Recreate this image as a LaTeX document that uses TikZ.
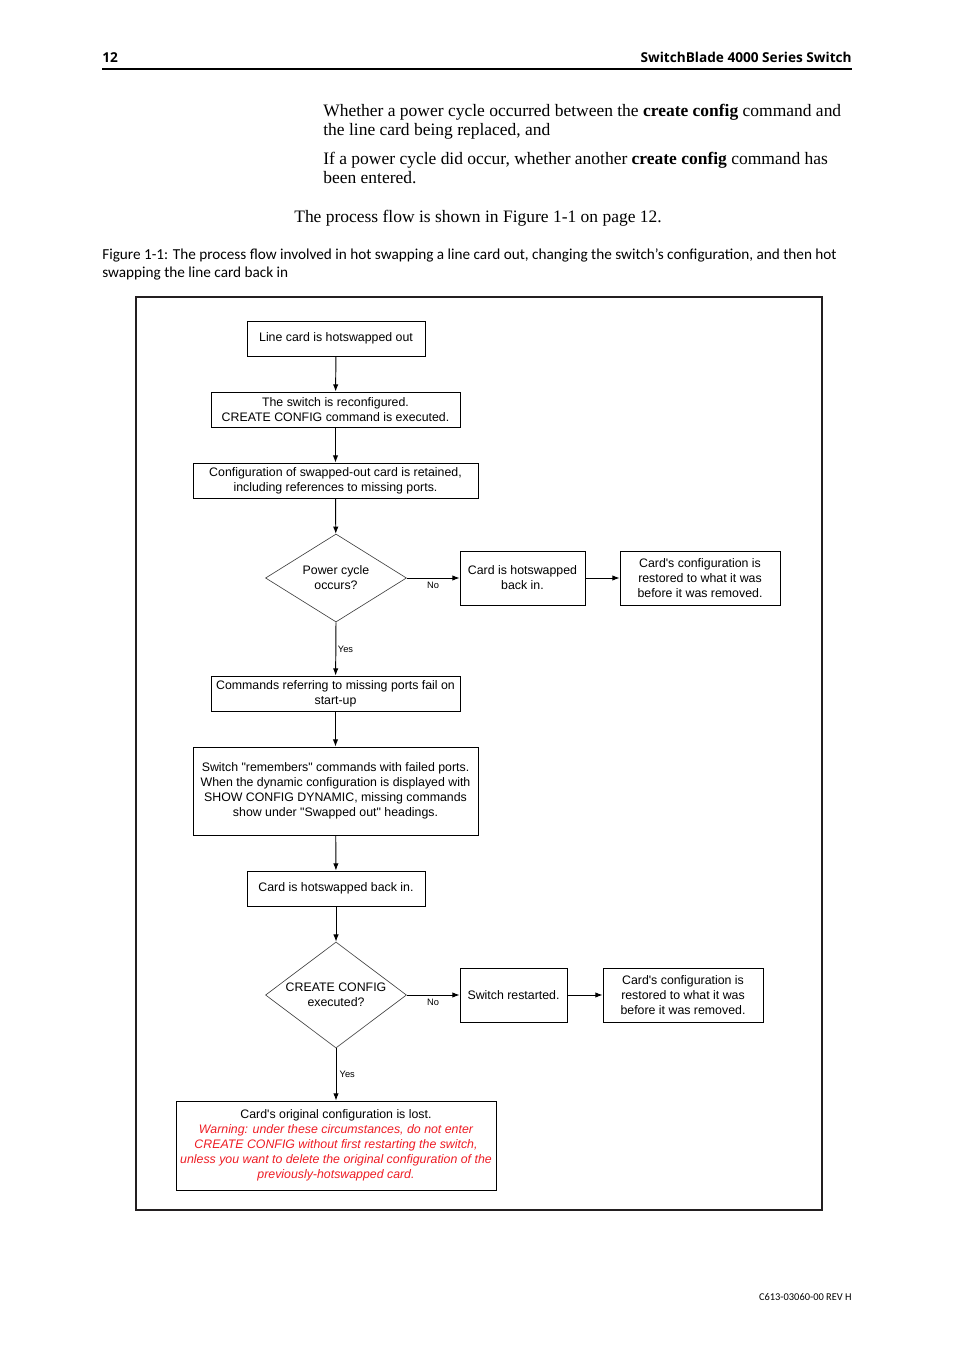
\documentclass[tikz,border=0pt]{standalone}
\usepackage{fontspec}
\setmainfont{Liberation Serif}
\newfontfamily\chartfont{Liberation Sans}
\newfontfamily\headfont{Open Sans}
\newfontfamily\captfont{Carlito}
\usetikzlibrary{positioning}
\usetikzlibrary{shapes.geometric, arrows.meta}
\definecolor{warnred}{RGB}{237,28,36}
\definecolor{framegray}{RGB}{35,31,32}
\tikzstyle{arrow} = [line width=0.6pt,-{Latex[length=4.5pt,width=3.4pt]}]
\tikzstyle{boxsize} = [minimum width=#1*0.6237pt]
\tikzstyle{procbox} = [draw,line width=0.6pt,align=center,inner sep=0pt,font=\chartfont\fontsize{7.7}{9.36}\selectfont]
\tikzstyle{decision} = [diamond,aspect=1.4,draw=black!75,line width=0.4pt,align=center,inner sep=0pt,minimum width=141*0.6237pt,font=\chartfont\fontsize{7.7}{9.36}\selectfont]
\tikzstyle{answer} = [font=\chartfont\fontsize{5.8}{7}\selectfont,inner sep=2pt]
\tikzstyle{bodytext} = [anchor=base west,inner sep=0pt,font=\fontsize{10.9}{11.85}\selectfont]
\tikzstyle{capttext} = [anchor=base west,inner sep=0pt,font=\captfont\fontsize{9.5}{11}\selectfont]

\begin{document}
\begin{tikzpicture}[x=0.6237pt,y=-0.6237pt]
	\useasboundingbox (0,0) rectangle (954,1351);
	% running head
	\node[anchor=base west,inner sep=0pt,font=\headfont\bfseries\fontsize{8.5}{10}\selectfont] (pagenum) at (102,63) {12};
	\node[anchor=base east,inner sep=0pt,font=\headfont\bfseries\fontsize{8.5}{10}\selectfont] (runhead) at (852,63) {SwitchBlade 4000 Series Switch};
	\draw[line width=1.1pt] (102,69) -- (852,69);
	% text above the figure
	\node[bodytext] (para1a) at (323,117) {Whether a power cycle occurred between the \textbf{create config} command and};
	\node[bodytext] (para1b) at (323,136) {the line card being replaced, and};
	\node[bodytext] (para2a) at (323,165) {If a power cycle did occur, whether another \textbf{create config} command has};
	\node[bodytext] (para2b) at (323,184) {been entered.};
	\node[bodytext] (flowref) at (294,223) {The process flow is shown in Figure 1-1 on page 12.};
	\node[capttext] (capta) at (102,260) {Figure 1-1: The process flow involved in hot swapping a line card out, changing the switch’s configuration, and then hot};
	\node[capttext] (captb) at (102,278) {swapping the line card back in};
	% figure frame
	\draw[framegray,line width=1.2pt] (136,297) rectangle (822,1210);
	% flow chart
	\node[procbox,boxsize=178,minimum height=35*0.6237pt] (out) at (336,338.5) {Line card is hotswapped out};
	\node[procbox,boxsize=249,minimum height=35*0.6237pt] (reconf) at (335.5,409.5) {The switch is reconfigured.\\CREATE CONFIG command is executed.};
	\node[procbox,boxsize=285,minimum height=35*0.6237pt] (retain) at (335.5,480.5) {Configuration of swapped-out card is retained,\\including references to missing ports.};
	\node[decision,minimum height=88*0.6237pt] (power) at (336,578) {Power cycle\\occurs?};
	\node[procbox,boxsize=125,minimum height=54*0.6237pt] (backa) at (522.5,578) {Card is hotswapped\\back in.};
	\node[procbox,boxsize=160,minimum height=54*0.6237pt] (restorea) at (700,578) {Card's configuration is\\restored to what it was\\before it was removed.};
	\node[procbox,boxsize=249,minimum height=35*0.6237pt] (fail) at (335.5,693.5) {Commands referring to missing ports fail on\\start-up};
	\node[procbox,boxsize=285,minimum height=88*0.6237pt] (remember) at (335.5,791) {Switch "remembers" commands with failed ports.\\When the dynamic configuration is displayed with\\SHOW CONFIG DYNAMIC, missing commands\\show under "Swapped out" headings.};
	\node[procbox,boxsize=178,minimum height=35*0.6237pt] (backb) at (336,888.5) {Card is hotswapped back in.};
	\node[decision,minimum height=106*0.6237pt] (create) at (336,995) {CREATE CONFIG\\executed?};
	\node[procbox,boxsize=107,minimum height=54*0.6237pt] (restart) at (513.5,995) {Switch restarted.};
	\node[procbox,boxsize=160,minimum height=54*0.6237pt] (restoreb) at (683,995) {Card's configuration is\\restored to what it was\\before it was removed.};
	\node[procbox,boxsize=320,minimum height=89*0.6237pt] (lost) at (336,1145.5) {Card's original configuration is lost.\\
		\color{warnred}\itshape Warning: under these circumstances, do not enter\\
		\color{warnred}\itshape CREATE CONFIG without first restarting the switch,\\
		\color{warnred}\itshape unless you want to delete the original configuration of the\\
		\color{warnred}\itshape previously-hotswapped card.};
	% connectors
	\draw[arrow] (out) -- (reconf);
	\draw[arrow] (reconf) -- (retain);
	\draw[arrow] (retain) -- (power);
	\draw[arrow] (power.east) -- node[answer,below] {No} (backa);
	\draw[arrow] (backa) -- (restorea);
	\draw[arrow] (power.south) -- node[answer,right,inner sep=1pt] {Yes} (fail);
	\draw[arrow] (fail) -- (remember);
	\draw[arrow] (remember) -- (backb);
	\draw[arrow] (backb) -- (create);
	\draw[arrow] (create.east) -- node[answer,below] {No} (restart);
	\draw[arrow] (restart) -- (restoreb);
	\draw[arrow] (create.south) -- node[answer,right,inner sep=2pt] {Yes} (lost);
	% footer
	\node[anchor=base east,inner sep=0pt,font=\captfont\fontsize{6.5}{7}\selectfont] (docref) at (852,1300) {C613-03060-00 REV H};
\end{tikzpicture}
\end{document}
